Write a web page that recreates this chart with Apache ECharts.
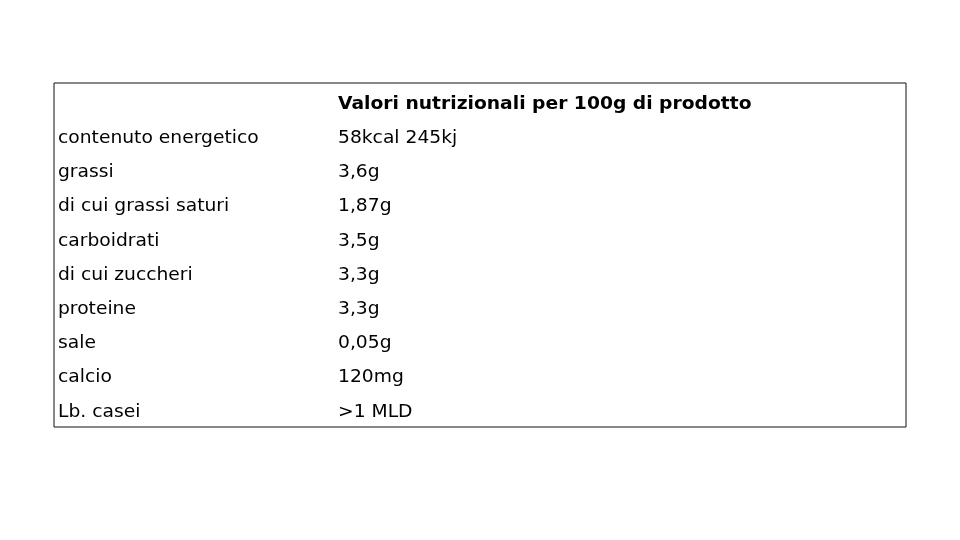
<!DOCTYPE html>
<html><head><meta charset="utf-8">
<script src="https://cdn.jsdelivr.net/npm/echarts@6/dist/echarts.min.js"></script>
<style>html,body{margin:0;background:#fff}#c{width:960px;height:540px}</style>
</head><body><div id="c"></div>
<script>
const header = ["", "Valori nutrizionali per 100g di prodotto"];
const labels = ["contenuto energetico","grassi","di cui grassi saturi","carboidrati","di cui zuccheri","proteine","sale","calcio","Lb. casei"];
const values = ["58kcal 245kj","3,6g","1,87g","3,5g","3,3g","3,3g","0,05g","120mg",">1 MLD"];

const rows = [[0, header[0], header[1], 1]];
labels.forEach((l, i) => rows.push([i + 1, l, values[i], 0]));

const chart = echarts.init(document.getElementById('c'));
chart.setOption({
  animation: false,
  grid: {left: 54, right: 54, top: 83, bottom: 113, show: true, borderColor: '#111', borderWidth: 1},
  xAxis: {type: 'value', min: 0, max: 1, show: false},
  yAxis: {type: 'value', min: -0.62, max: 9.43, inverse: true, show: false},
  series: [{
    type: 'custom',
    data: rows,
    renderItem: function (params, api) {
      const p = api.coord([0, api.value(0)]);
      const bold = rows[params.dataIndex][3] === 1;
      const font = (bold ? 'bold ' : '') + '17px "DejaVu Sans"';
      const mk = (x, t) => ({type: 'text', scaleX: 1.1, x: x, y: p[1], style: {x: 0, y: 0, text: t, font: font, fill: '#000', verticalAlign: 'middle'}});
      return {type: 'group', children: [
        mk(p[0] + 4, rows[params.dataIndex][1]),
        mk(p[0] + 284, rows[params.dataIndex][2])
      ]};
    }
  }]
});
</script></body></html>
